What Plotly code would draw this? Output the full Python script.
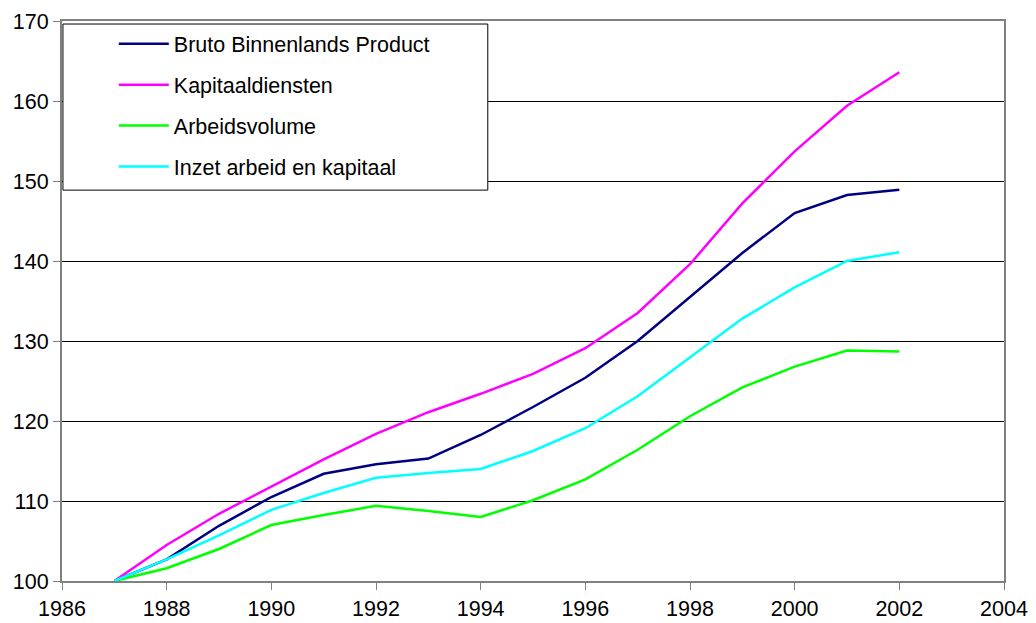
import plotly.graph_objects as go

years = list(range(1987, 2003))
bbp = [100, 102.7, 106.9, 110.5, 113.4, 114.6, 115.3, 118.25, 121.75, 125.4, 130.0, 135.5, 141.0, 146.0, 148.25, 148.9]
kapitaal = [100, 104.5, 108.4, 111.8, 115.2, 118.4, 121.1, 123.4, 125.9, 129.1, 133.5, 139.6, 147.2, 153.7, 159.4, 163.6]
arbeid = [100, 101.6, 104.0, 107.0, 108.25, 109.4, 108.75, 108.0, 110.1, 112.7, 116.4, 120.6, 124.2, 126.8, 128.8, 128.7]
inzet = [100, 102.7, 105.7, 108.9, 111.0, 112.9, 113.5, 114.0, 116.25, 119.1, 123.1, 128.0, 132.8, 136.7, 140.0, 141.1]

series_names = ["Bruto Binnenlands Product", "Kapitaaldiensten", "Arbeidsvolume", "Inzet arbeid en kapitaal"]
series_values = [bbp, kapitaal, arbeid, inzet]
series_colors = ["#000080", "#FF00FF", "#00FF00", "#00FFFF"]

x_ticks = list(range(1986, 2005, 2))
y_ticks = list(range(100, 171, 10))

fig = go.Figure()
for name, vals, col in zip(series_names, series_values, series_colors):
    fig.add_trace(go.Scatter(x=years, y=vals, mode="lines", name=name,
                             line=dict(color=col, width=2.5), legendgroup=name))

font = "Liberation Sans, Arial, sans-serif"
fig.update_layout(
    width=1028, height=615,
    margin=dict(l=54, r=32, t=13, b=42, autoexpand=False),
    paper_bgcolor="white", plot_bgcolor="white",
    font=dict(family=font, size=21.5, color="black"),
    showlegend=True,
    legend=dict(x=0.055, y=0.996, xanchor="left", yanchor="top",
                bgcolor="rgba(0,0,0,0)", borderwidth=0,
                font=dict(family=font, size=21.5, color="black"),
                traceorder="grouped", tracegroupgap=10, itemwidth=50),
    shapes=[dict(type="rect", xref="paper", yref="paper",
                 x0=0.001, x1=0.452, y0=0.698, y1=0.9946,
                 line=dict(color="black", width=1), fillcolor="white", layer="above")],
    xaxis=dict(range=[1986, 2004], tickvals=x_ticks, ticktext=[str(v) for v in x_ticks],
               showgrid=False, zeroline=False, showline=True, linecolor="#808080", linewidth=2,
               mirror=True, ticks="outside", ticklen=7, tickcolor="#808080", tickwidth=1,
               tickfont=dict(size=21.5), automargin=False),
    yaxis=dict(range=[100, 170], tickvals=y_ticks, ticktext=[str(v) for v in y_ticks],
               showgrid=True, gridcolor="black", gridwidth=1, zeroline=False,
               showline=True, linecolor="#808080", linewidth=2, mirror=True,
               ticks="outside", ticklen=7, tickcolor="#808080", tickwidth=1,
               tickfont=dict(size=21.5), automargin=False),
)
fig.write_html("out.html")
